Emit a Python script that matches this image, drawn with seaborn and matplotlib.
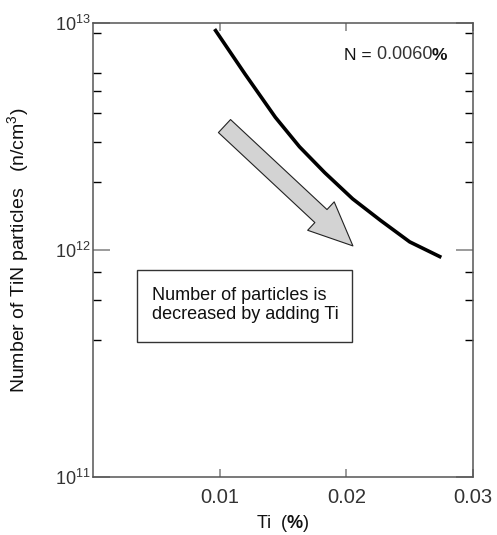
import matplotlib
matplotlib.use("Agg")
import matplotlib.pyplot as plt
import matplotlib.patches as mpatches
from matplotlib.ticker import FixedLocator, NullFormatter, LogFormatterSciNotation
import seaborn as sns
import pandas as pd

# ---- data ----
ti_pct = [0.0096, 0.0120, 0.0144, 0.0163, 0.0183, 0.0205, 0.0227, 0.0250, 0.0275]
n_particles = [9.4e12, 5.96e12, 3.84e12, 2.85e12, 2.19e12, 1.68e12, 1.35e12, 1.086e12, 9.28e11]
x_ticks = [0.01, 0.02, 0.03]
x_tick_labels = ["0.01", "0.02", "0.03"]
y_major = [1e11, 1e12, 1e13]
y_minor = [9e12, 6e12, 5e12, 4e12, 3e12, 2e12, 8e11, 6e11, 4e11]
note_text = "Number of particles is\ndecreased by adding Ti"

sns.set_theme(style="white")
plt.rcParams["font.family"] = ["Liberation Sans", "DejaVu Sans"]
plt.rcParams["mathtext.fontset"] = "custom"
plt.rcParams["mathtext.rm"] = "Liberation Sans"
plt.rcParams["mathtext.it"] = "Liberation Sans:italic"
plt.rcParams["mathtext.bf"] = "Liberation Sans:bold"

W, H = 497, 535
fig = plt.figure(figsize=(W / 100, H / 100), dpi=100)
fig.patch.set_facecolor("white")
L, R, T, B = 93, 473, 23, 477
ax = fig.add_axes([L / W, 1 - B / H, (R - L) / W, (B - T) / H])

df = pd.DataFrame({"ti": ti_pct, "n": n_particles})
sns.lineplot(data=df, x="ti", y="n", ax=ax, color="black", linewidth=2.6,
             sort=False, estimator=None)
ax.lines[0].set_solid_joinstyle("round")
ax.lines[0].set_solid_capstyle("butt")

ax.set_yscale("log")
ax.set_xlim(0, 0.03)
ax.set_ylim(1e11, 1e13)

ax.yaxis.set_major_locator(FixedLocator(y_major))
ax.yaxis.set_major_formatter(LogFormatterSciNotation())
ax.yaxis.set_minor_locator(FixedLocator(y_minor))
ax.yaxis.set_minor_formatter(NullFormatter())
ax.set_xticks(x_ticks, labels=x_tick_labels)
ax.xaxis.set_minor_locator(FixedLocator([]))

for sp in ax.spines.values():
    sp.set_color("#555555")
    sp.set_linewidth(1.1)

ax.tick_params(axis="y", which="major", direction="in", length=12.5, width=1.1,
               color="#808080", left=True, right=True, labelsize=13,
               labelcolor="#333333", pad=2)
ax.tick_params(axis="y", which="minor", direction="in", length=6, width=1.0,
               color="black", left=True, right=True)
ax.tick_params(axis="x", which="major", direction="in", length=6, width=1.1,
               color="#808080", bottom=True, top=True, labelsize=14.5,
               labelcolor="#333333", pad=8)

ax.set_xlabel(r"Ti  ($\mathbf{\%}$)", fontsize=13, color="#111111")
ax.xaxis.set_label_coords(0.5, -0.08)
ax.set_ylabel(r"Number of TiN particles   (n/cm$^{3}$)", fontsize=14, color="#111111")
ax.yaxis.set_label_coords(-0.163, 0.5)

# N = 0.0060 %
t1 = ax.text(0.6605, 0.928, "N =", transform=ax.transAxes, fontsize=12.5,
             va="center", ha="left", color="#111111")
t2 = ax.annotate(" 0.0060", xy=(1, 0), xycoords=t1, va="bottom", ha="left",
                 fontsize=13, color="#333333")
ax.annotate("%", xy=(1, 0), xycoords=t2, va="bottom", ha="left",
            fontsize=12.5, fontweight="bold", color="#111111")

# arrow
ax.annotate("", xy=(0.684, 0.509), xytext=(0.346, 0.773),
            xycoords="axes fraction", textcoords="axes fraction",
            arrowprops=dict(arrowstyle="simple,head_length=0.63,head_width=0.56,tail_width=0.256",
                            mutation_scale=50, fc="#d3d3d3", ec="#222222", lw=0.8,
                            shrinkA=0, shrinkB=0))

# note box
ax.add_patch(mpatches.Rectangle((0.115, 0.298), 0.567, 0.158, transform=ax.transAxes,
                                facecolor="white", edgecolor="#333333", linewidth=1.0,
                                zorder=3))
ax.text(0.155, 0.378, note_text, transform=ax.transAxes, fontsize=13,
        va="center", ha="left", linespacing=1.15, color="#111111", zorder=4)

fig.savefig("out.png", dpi=100, facecolor="white")
